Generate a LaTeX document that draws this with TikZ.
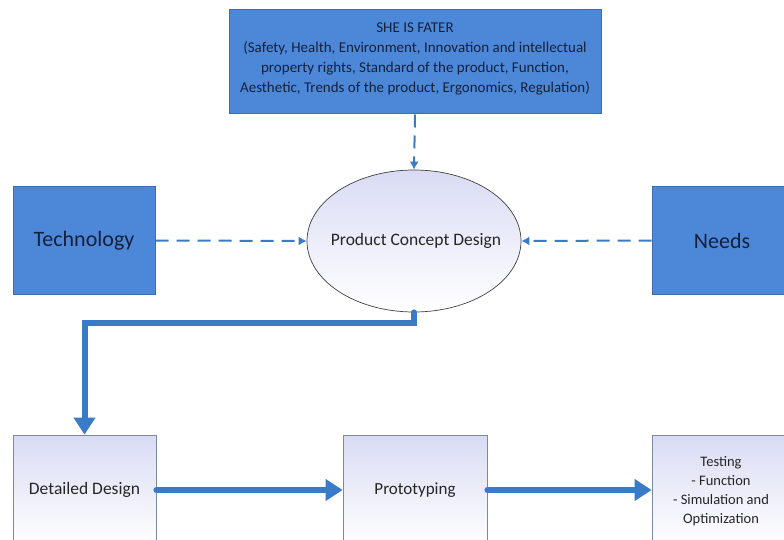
\documentclass[tikz,border=0pt]{standalone}
\usepackage{fontspec}
\setmainfont{Carlito}
\usetikzlibrary{arrows.meta,shapes.geometric}
\definecolor{boxblue}{HTML}{4D87D8}
\definecolor{boxedge}{HTML}{3D6DB0}
\definecolor{arrowblue}{HTML}{3A7BC8}
\definecolor{navy}{HTML}{14213D}
\definecolor{lav}{HTML}{D9DBF3}
\definecolor{paleedge}{HTML}{7A8AA3}
\begin{document}
\begin{tikzpicture}[x=1pt,y=-1pt,
  bluebox/.style={draw=boxedge, line width=1pt, fill=boxblue, text=navy, inner sep=0pt},
  palebox/.style={draw=paleedge, line width=0.8pt, top color=lav, bottom color=white, inner sep=0pt},
  dasharrow/.style={draw=arrowblue, line width=2pt, dash pattern=on 13pt off 8pt, -{Latex[length=8pt,width=9pt]}},
  thickarrow/.style={draw=arrowblue, line width=6pt, line cap=round, line join=miter, -{Triangle[length=17pt,width=21pt]}},
  lbl/.style={text=black!85, inner sep=0pt}
]
\useasboundingbox (0,0) rectangle (784,540);
\clip (0,0) rectangle (784,540);

% top box
\node[bluebox, minimum width=372pt, minimum height=104pt] (top) at (415,62) {};
\node[lbl, text=navy, align=center, font=\fontsize{15}{20}\selectfont] (toptxt) at (415,59)
  {SHE IS FATER\\(Safety, Health, Environment, Innovation and intellectual\\property rights, Standard of the product, Function,\\Aesthetic, Trends of the product, Ergonomics, Regulation)};

% side boxes
\node[bluebox, minimum width=142pt, minimum height=107pt, font=\fontsize{22}{26}\selectfont] (tech) at (84,240.5) {Technology};
\node[bluebox, minimum width=140pt, minimum height=107pt, font=\fontsize{22}{26}\selectfont] (needs) at (722,240.5) {Needs};

% ellipse
\node[ellipse, draw=black!75, line width=0.7pt, top color=lav, bottom color=white, inner sep=0pt,
      minimum width=214pt, minimum height=142pt] (ell) at (414,241) {};
\node[lbl, font=\fontsize{17.5}{21}\selectfont] (elltxt) at (416,241) {Product Concept Design};

% bottom boxes
\node[palebox, minimum width=143pt, minimum height=110pt] (dd) at (84.5,490) {};
\node[lbl, font=\fontsize{17.5}{21}\selectfont] (ddtxt) at (84.5,490) {Detailed Design};
\node[palebox, minimum width=144pt, minimum height=110pt] (proto) at (415,490) {};
\node[lbl, font=\fontsize{17}{20}\selectfont] (prototxt) at (415,490) {Prototyping};
\node[palebox, minimum width=138pt, minimum height=110pt] (test) at (721,490) {};
\node[lbl, align=center, font=\fontsize{14.5}{19}\selectfont] (testtxt) at (721,491) {Testing\\- Function\\- Simulation and\\Optimization};

% connectors
\draw[dasharrow] (top.south) -- (ell.north);
\draw[dasharrow] (tech.east) -- (ell.west);
\draw[dasharrow] (needs.west) -- (ell.east);
\draw[thickarrow] (ell.south) -- ++(0,11) -| (dd.north);
\draw[thickarrow] (dd.east) -- (proto.west);
\draw[thickarrow] (proto.east) -- (test.west);
\end{tikzpicture}
\end{document}
